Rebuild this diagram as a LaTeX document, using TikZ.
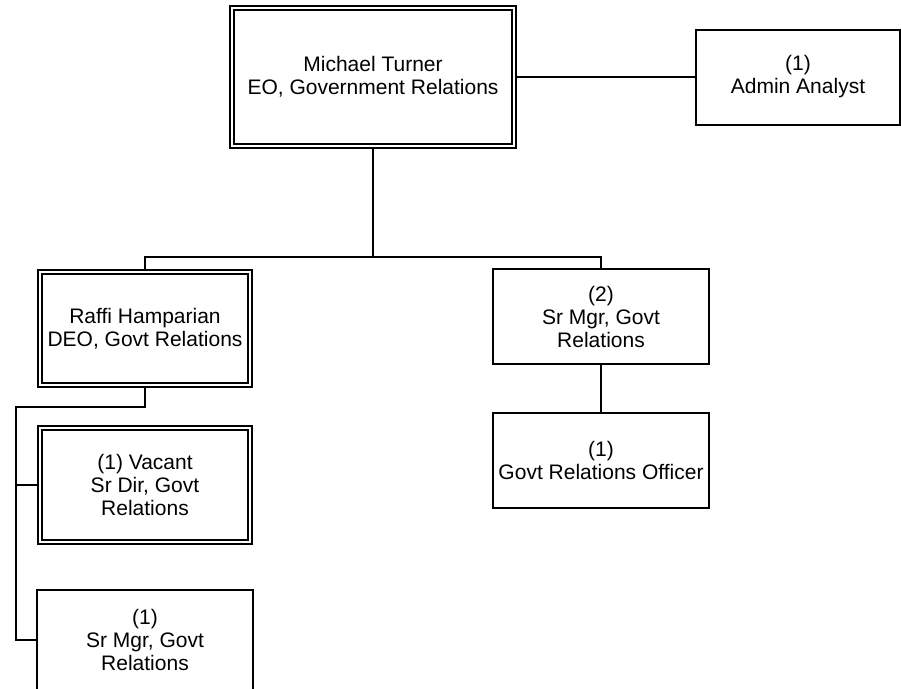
\documentclass[tikz,border=0pt]{standalone}
\usepackage{fontspec}
\setmainfont{Liberation Sans}
\usetikzlibrary{positioning}

\begin{document}
\begin{tikzpicture}[x=1pt,y=1pt,on grid,line width=2pt,
    post/.style={draw,rectangle,align=center,inner sep=2pt,
                 font=\fontsize{21}{23}\selectfont,
                 minimum width=216pt,minimum height=95pt},
    head/.style={post,line width=1.6pt,double,double distance=2pt}]
    \useasboundingbox (0,0) rectangle (901,-688);
    \node[head,minimum width=282pt,minimum height=138pt] (top) at (373,-77)
        {Michael Turner\\EO, Government Relations};
    \node[post,minimum width=204pt]  (admin)   [right=425pt of top]   {(1)\\Admin Analyst};
    \node[head,minimum width=210pt,minimum height=113pt]
                                     (raffi)   [below left=251.5pt and 228pt of top]
        {Raffi Hamparian\\DEO, Govt Relations};
    \node[post]                      (srmgrB)  [below right=239.5pt and 228pt of top]
        {(2)\\Sr Mgr, Govt\\Relations};
    \node[post]                      (officer) [below=144pt of srmgrB] {(1)\\Govt Relations Officer};
    \node[head,minimum width=210pt,minimum height=114pt]
                                     (vacant)  [below=156.5pt of raffi]
        {(1) Vacant\\Sr Dir, Govt\\Relations};
    \node[post,minimum height=100pt] (srmgrA)  [below=155pt of vacant]
        {(1)\\Sr Mgr, Govt\\Relations};

    \draw (top) -- (admin);
    \draw (top.south) -- ++(0,-110) coordinate (split) -| (raffi.north);
    \draw (split) -| (srmgrB.north);
    \draw (srmgrB) -- (officer);
    \draw (raffi.south) -- ++(0,-21) -- ++(-129,0) coordinate (rail) |- (srmgrA.west);
    \draw (rail |- vacant.west) -- (vacant.west);
\end{tikzpicture}
\end{document}
